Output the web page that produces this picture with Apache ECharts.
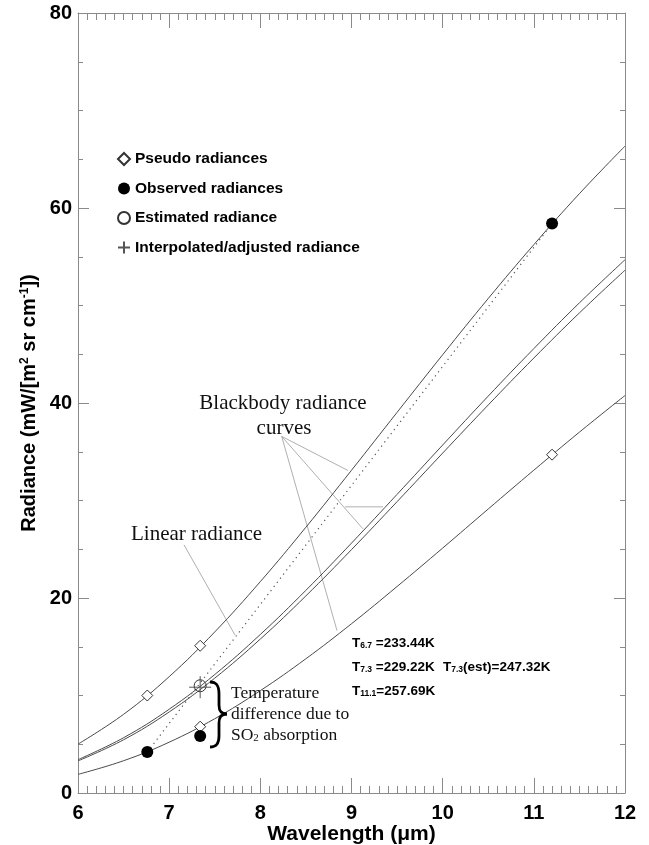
<!DOCTYPE html>
<html><head><meta charset="utf-8">
<script src="https://cdn.jsdelivr.net/npm/echarts@6/dist/echarts.min.js"></script>
<style>html,body{margin:0;padding:0;background:#fff}#c{width:649px;height:845px}</style>
</head><body><div id="c"></div>
<script>
// ---- data ----
const wavelength = [6, 6.5, 7, 7.5, 8, 8.5, 9, 9.5, 10, 10.5, 11, 11.5, 12];
const curveT257 = [5.01, 8.07, 11.93, 16.52, 21.68, 27.26, 33.10, 39.04, 44.95, 50.72, 56.24, 61.47, 66.35];
const curveT247 = [3.42, 5.67, 8.59, 12.15, 16.26, 20.79, 25.63, 30.63, 35.69, 40.71, 45.58, 50.27, 54.69];
const curveT246 = [3.29, 5.46, 8.31, 11.78, 15.79, 20.22, 24.96, 29.88, 34.86, 39.80, 44.61, 49.24, 53.62];
const curveT233 = [1.91, 3.31, 5.21, 7.62, 10.50, 13.77, 17.36, 21.18, 25.12, 29.13, 33.11, 37.01, 40.77];

const pseudoX = [6.76, 7.34, 7.34, 11.2];
const pseudoY = [10.0, 15.1, 6.8, 34.7];
const observedX = [6.76, 7.34, 11.2];
const observedY = [4.2, 5.85, 58.4];
const estimatedX = [7.34];
const estimatedY = [11.0];
const interpX = [7.34];
const interpY = [10.85];
const linearX = [6.76, 11.2];
const linearY = [4.2, 58.4];

// annotation leader lines (data coordinates)
const leaderA = [[8.234, 36.58], [8.961, 33.08]];
const leaderB = [[8.234, 36.58], [9.126, 27.09]];
const leaderC = [[8.929, 29.35], [9.345, 29.35]];
const leaderD = [[8.234, 36.58], [8.841, 16.66]];
const leaderE = [[7.163, 25.45], [7.722, 16.2]];

const xTicks = [6, 7, 8, 9, 10, 11, 12];
const yTicks = [0, 20, 40, 60, 80];

const zip = (xs, ys) => xs.map((x, i) => [x, ys[i]]);

const SANS = 'Liberation Sans';
const SERIF = 'Liberation Serif';
const AX = '#8a8a8a';
const CURVE = '#4a4a4a';

const chart = echarts.init(document.getElementById('c'));

function xAx(pos, showLabel) {
  return {
    type: 'value', position: pos, min: xTicks[0], max: xTicks[xTicks.length - 1], interval: 1,
    axisLine: {show: true, onZero: false, lineStyle: {color: AX, width: 1}},
    axisTick: {show: true, inside: true, length: 15, lineStyle: {color: AX, width: 1}},
    minorTick: {show: true, splitNumber: 10, length: 7, lineStyle: {color: AX, width: 1}},
    splitLine: {show: false},
    axisLabel: {show: showLabel, margin: 10, color: '#000', fontFamily: SANS, fontWeight: 'bold', fontSize: 20},
    name: showLabel ? 'Wavelength (\u03bcm)' : '',
    nameLocation: 'middle', nameGap: 31, nameMoveOverlap: false,
    nameTextStyle: {color: '#000', fontFamily: SANS, fontWeight: 'bold', fontSize: 21}
  };
}
function yAx(pos, showLabel) {
  return {
    type: 'value', position: pos, min: yTicks[0], max: yTicks[yTicks.length - 1], interval: 20,
    axisLine: {show: true, onZero: false, lineStyle: {color: AX, width: 1}},
    axisTick: {show: true, inside: true, length: 11, lineStyle: {color: AX, width: 1}},
    minorTick: {show: true, splitNumber: 4, length: 5, lineStyle: {color: AX, width: 1}},
    splitLine: {show: false},
    axisLabel: {show: showLabel, margin: 6, color: '#000', fontFamily: SANS, fontWeight: 'bold', fontSize: 20},
    name: showLabel ? '{n|Radiance (mW/[m}{p|2}{n| sr cm}{p|-1}{n|])}' : '',
    nameLocation: 'middle', nameGap: 39, nameRotate: 90, nameMoveOverlap: false,
    nameTextStyle: {
      color: '#000', fontFamily: SANS, fontWeight: 'bold', fontSize: 20,
      rich: {
        n: {fontFamily: SANS, fontWeight: 'bold', fontSize: 20, color: '#000'},
        p: {fontFamily: SANS, fontWeight: 'bold', fontSize: 12, color: '#000', verticalAlign: 'top'}
      }
    }
  };
}

function curve(data) {
  return {type: 'line', data: zip(wavelength, data), smooth: 0.4, showSymbol: false, silent: true,
    lineStyle: {color: CURVE, width: 1}, z: 3};
}
function leader(d) {
  return {type: 'line', data: d, showSymbol: false, silent: true,
    lineStyle: {color: '#b0b0b0', width: 1}, z: 2};
}

const tRich = {
  t: {fontFamily: SANS, fontWeight: 'bold', fontSize: 13.5, fill: '#000'},
  s: {fontFamily: SANS, fontWeight: 'bold', fontSize: 8.5, fill: '#000', verticalAlign: 'bottom'}
};
const serifText = (x, y, text, align) => ({
  type: 'text', x: x, y: y, z: 10,
  style: {text: text, fontFamily: SERIF, fontSize: 21, fill: '#111', align: align || 'left', verticalAlign: 'middle'}
});
const serifSmall = (x, y, text) => ({
  type: 'text', x: x, y: y, z: 10,
  style: {text: text, fontFamily: SERIF, fontSize: 17.5, fill: '#111', align: 'left', verticalAlign: 'middle',
    rich: {r: {fontFamily: SERIF, fontSize: 17.5, fill: '#111'}, b: {fontFamily: SERIF, fontSize: 11, fill: '#111', verticalAlign: 'bottom'}}}
});
const tLabel = (x, y, text) => ({
  type: 'text', x: x, y: y, z: 10,
  style: {text: text, rich: tRich, align: 'left', verticalAlign: 'middle'}
});
const braceStyle = {fill: 'none', stroke: '#000', lineWidth: 2.8};
const bz = (x1, y1, c1x, c1y, c2x, c2y, x2, y2) => ({type: 'bezierCurve', z: 10,
  shape: {x1: x1, y1: y1, cpx1: c1x, cpy1: c1y, cpx2: c2x, cpy2: c2y, x2: x2, y2: y2}, style: braceStyle});
const ln = (x1, y1, x2, y2) => ({type: 'line', z: 10, shape: {x1: x1, y1: y1, x2: x2, y2: y2}, style: braceStyle});

chart.setOption({
  animation: false,
  backgroundColor: '#fff',
  grid: {left: 78, right: 24, top: 13, bottom: 52, containLabel: false, outerBoundsMode: 'none'},
  xAxis: [xAx('bottom', true), xAx('top', false)],
  yAxis: [yAx('left', true), yAx('right', false)],
  legend: {
    orient: 'vertical', left: 117, top: 151, padding: 0, itemWidth: 12, itemHeight: 12, itemGap: 13.5,
    selectedMode: false,
    data: ['Pseudo radiances', 'Observed radiances', 'Estimated radiance', 'Interpolated/adjusted radiance'],
    textStyle: {fontFamily: SANS, fontWeight: 'bold', fontSize: 15.5, color: '#000'}
  },
  series: [
    curve(curveT257), curve(curveT247), curve(curveT246), curve(curveT233),
    {type: 'line', data: zip(linearX, linearY), showSymbol: false, silent: true,
      lineStyle: {color: '#555', width: 1.2, type: [1.2, 4]}, z: 3},
    leader(leaderA), leader(leaderB), leader(leaderC), leader(leaderD), leader(leaderE),
    {name: 'Pseudo radiances', type: 'scatter', data: zip(pseudoX, pseudoY), symbol: 'diamond', symbolSize: 11,
      itemStyle: {color: '#fff', borderColor: '#333', borderWidth: 1, opacity: 1}, z: 6},
    {name: 'Observed radiances', type: 'scatter', data: zip(observedX, observedY), symbol: 'circle', symbolSize: 12,
      itemStyle: {color: '#000', borderColor: '#000', borderWidth: 0, opacity: 1}, z: 6},
    {name: 'Estimated radiance', type: 'scatter', data: zip(estimatedX, estimatedY), symbol: 'circle', symbolSize: 12,
      itemStyle: {color: 'rgba(255,255,255,0)', borderColor: '#333', borderWidth: 1, opacity: 1}, z: 7},
    {name: 'Interpolated/adjusted radiance', type: 'scatter', data: zip(interpX, interpY),
      symbol: 'path://M0,10L20,10M10,0L10,20', symbolSize: 22,
      itemStyle: {color: 'rgba(0,0,0,0)', borderColor: '#555', borderWidth: 1, opacity: 1}, z: 7}
  ],
  graphic: [
    serifText(283, 403, 'Blackbody radiance', 'center'),
    serifText(284, 428, 'curves', 'center'),
    serifText(131, 534, 'Linear radiance', 'left'),
    serifSmall(231, 693, 'Temperature'),
    serifSmall(231, 714, 'difference due to'),
    serifSmall(231, 735, '{r|SO}{b|2}{r| absorption}'),
    bz(210, 682, 217, 682, 219, 686, 219, 694),
    ln(219, 694, 219, 705),
    bz(219, 705, 219, 711, 221, 714, 227, 714),
    bz(227, 714, 221, 714, 219, 717, 219, 723),
    ln(219, 723, 219, 736),
    bz(219, 736, 219, 743, 217, 747, 210, 747),
    tLabel(352, 643, '{t|T}{s|6.7}{t| =233.44K}'),
    tLabel(352, 667, '{t|T}{s|7.3}{t| =229.22K}'),
    tLabel(443, 667, '{t|T}{s|7.3}{t|(est)=247.32K}'),
    tLabel(352, 691, '{t|T}{s|11.1}{t|=257.69K}')
  ]
});
</script></body></html>
